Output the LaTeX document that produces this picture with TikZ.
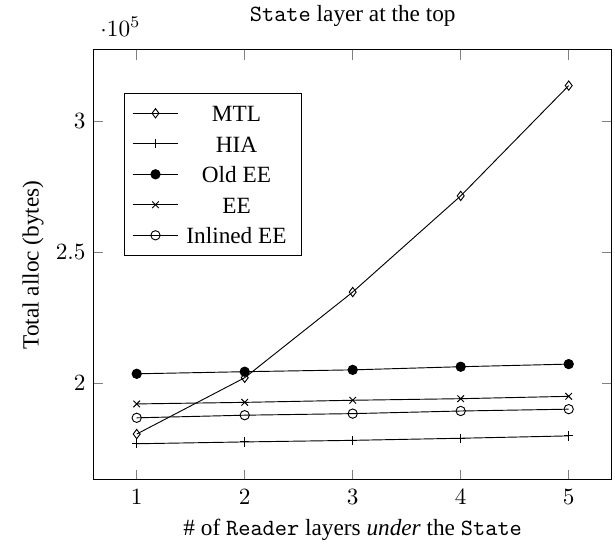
\documentclass[tikz,border=0pt]{standalone}
\usepackage[no-math]{fontspec}
\setmainfont{Liberation Serif}
\usetikzlibrary{plotmarks}
\begin{document}
\begin{tikzpicture}[x=0.43pt,y=-0.43pt,
  axisline/.style={line width=0.4pt,black},
  tickline/.style={very thin,gray},
  dataline/.style={line width=0.4pt,black,mark options={solid}},
  ticklab/.style={inner sep=0pt},
  legendtext/.style={anchor=base,inner sep=0pt},
]
\useasboundingbox (0,0) rectangle (615,546);

% major ticks, mirrored on all four sides
\foreach \px in {136.7,244.7,352.7,460.7,568.7}{
  \draw[tickline] (\px,479.7) -- ++(0,-9.9);
  \draw[tickline] (\px,49.7) -- ++(0,9.9);
}
\foreach \py in {383.5,252.5,121.5}{
  \draw[tickline] (93.5,\py) -- ++(9.9,0);
  \draw[tickline] (611.9,\py) -- ++(-9.9,0);
}

% axis frame
\draw[axisline] (93.5,49.7) rectangle (611.9,479.7);

% tick labels
\foreach \v [count=\i] in {1,2,3,4,5}{
  \node[ticklab,anchor=base] (xt\i) at (28.7+108*\i,504) {$\v$};
}
\node[ticklab,anchor=east] (yt2) at (86,383.5) {$2$};
\node[ticklab,anchor=east] (yt25) at (86,252.5) {$2.5$};
\node[ticklab,anchor=east] (yt3) at (86,121.5) {$3$};
\node[ticklab,anchor=base west] (mult) at (100,36) {$\cdot 10^{5}$};

% axis labels and title
\node[anchor=base] (title) at (352.7,21.5) {\texttt{State} layer at the top};
\node[anchor=base] (xlab) at (352.7,535) {\# of \texttt{Reader} layers \emph{under} the \texttt{State}};
\node[rotate=90] (ylab) at (33,265) {Total alloc (bytes)};

% data series
\begin{scope}[shift={(28.7,907.5)},x=46.44pt,y=112.66pt]
  \draw[dataline] plot[mark=diamond] coordinates
    {(1,1.807) (2,2.022) (3,2.349) (4,2.716) (5,3.137)};
  \draw[dataline] plot[mark=+] coordinates
    {(1,1.770) (2,1.777) (3,1.783) (4,1.791) (5,1.800)};
  \draw[dataline] plot[mark=*] coordinates
    {(1,2.037) (2,2.045) (3,2.052) (4,2.064) (5,2.074)};
  \draw[dataline] plot[mark=x] coordinates
    {(1,1.922) (2,1.928) (3,1.936) (4,1.942) (5,1.951)};
  \draw[dataline] plot[mark=o] coordinates
    {(1,1.869) (2,1.879) (3,1.885) (4,1.895) (5,1.902)};
\end{scope}

% legend
\draw[axisline,fill=white] (124.3,93.3) rectangle (301,255.7);
\foreach \m/\t [count=\i] in {diamond/MTL,+/HIA,*/Old EE,x/EE,o/Inlined EE}{
  \pgfmathsetmacro{\ry}{113.3+30.5*(\i-1)}
  \draw[dataline] plot[mark=\m,mark indices={2}] coordinates
    {(132.7,\ry) (155.5,\ry) (178.3,\ry)};
  \node[legendtext] (leg\i) at (236.5,\ry+8.2) {\t};
}
\end{tikzpicture}
\end{document}
